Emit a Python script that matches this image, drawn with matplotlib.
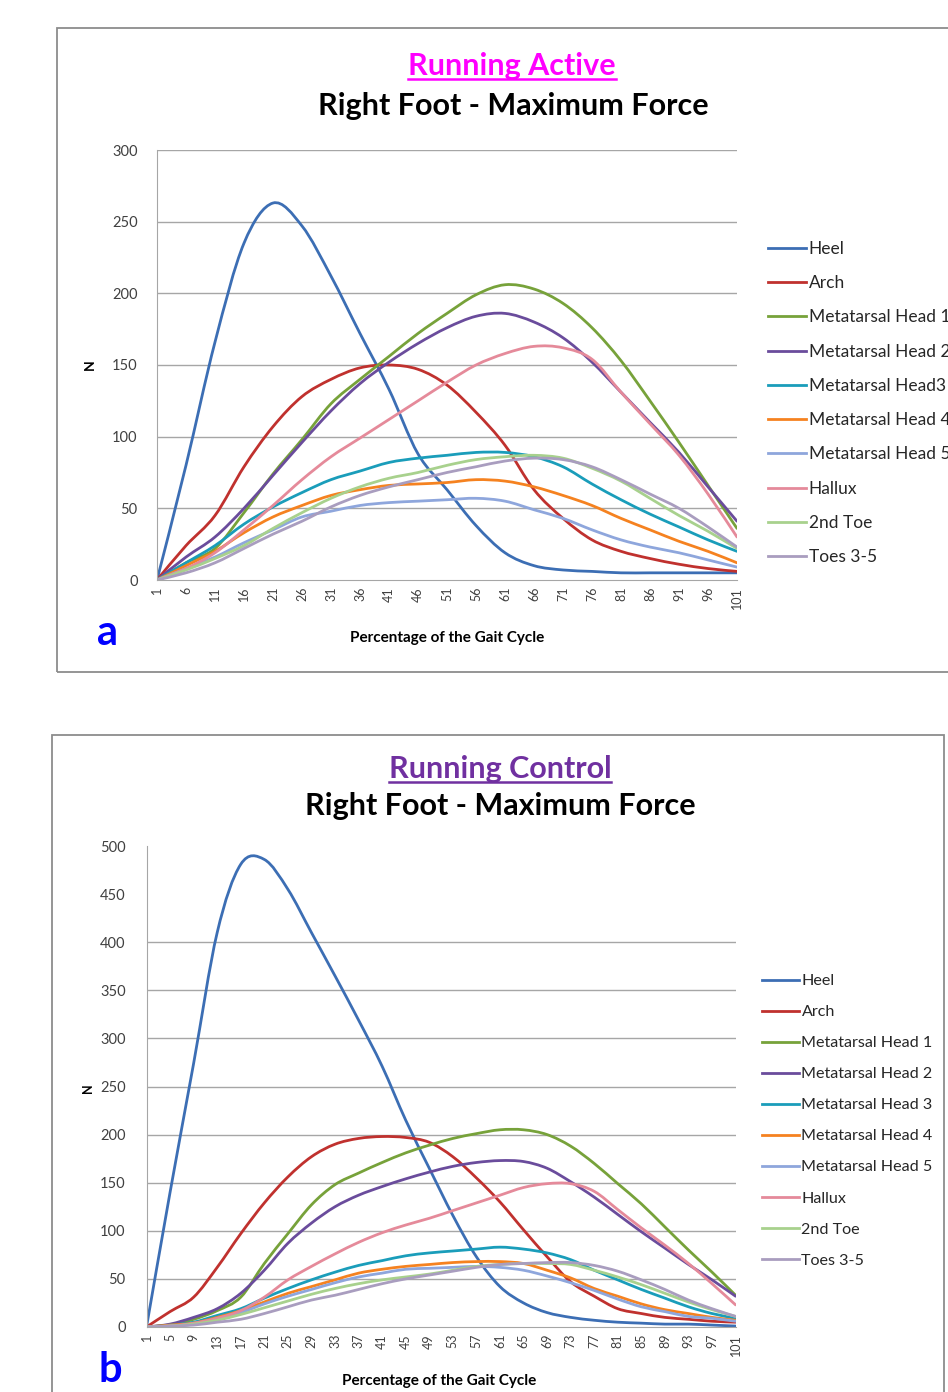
import matplotlib
matplotlib.use("Agg")
import matplotlib.pyplot as plt
from matplotlib.patches import Rectangle, PathPatch
from matplotlib.lines import Line2D
from matplotlib.path import Path

plt.rcParams['font.family'] = ['Lato', 'DejaVu Sans']

# ---- panel a : Running Active ----
x_a = list(range(1, 102, 5))
heel_a   = [0, 80, 166, 235, 263, 247, 212, 172, 133, 88, 63, 38, 19, 10, 7, 6, 5, 5, 5, 5, 5]
arch_a   = [0, 24, 45, 79, 107, 128, 140, 148, 150, 147, 136, 117, 94, 63, 43, 28, 20, 15, 11, 8, 6]
mh1_a    = [0, 12, 22, 47, 74, 98, 123, 140, 156, 172, 186, 199, 206, 203, 193, 176, 153, 125, 96, 66, 36]
mh2_a    = [0, 16, 30, 50, 73, 96, 118, 137, 152, 165, 176, 184, 186, 180, 169, 152, 131, 110, 89, 65, 41]
mh3_a    = [0, 12, 24, 39, 51, 61, 70, 76, 82, 85, 87, 89, 89, 86, 79, 67, 56, 46, 37, 28, 20]
mh4_a    = [0, 10, 20, 33, 44, 52, 59, 63, 66, 67, 68, 70, 69, 65, 59, 52, 43, 35, 27, 20, 12]
mh5_a    = [0, 8, 16, 26, 35, 44, 48, 52, 54, 55, 56, 57, 55, 49, 43, 35, 28, 23, 19, 14, 9]
hallux_a = [0, 8, 19, 35, 52, 70, 86, 99, 112, 125, 138, 150, 158, 163, 162, 154, 131, 109, 87, 60, 30]
toe2_a   = [0, 7, 15, 24, 36, 47, 57, 65, 71, 75, 80, 84, 86, 87, 85, 78, 69, 57, 45, 34, 22]
toes_a   = [0, 5, 12, 22, 32, 41, 51, 59, 65, 70, 75, 79, 83, 85, 84, 79, 70, 60, 50, 37, 23]

# ---- panel b : Running Control ----
x_b = list(range(1, 102, 4))
heel_b   = [0, 140, 274, 410, 481, 486, 455, 410, 365, 319, 271, 215, 165, 116, 73, 42, 25, 15, 10, 7, 5, 4, 3, 3, 2, 1]
arch_b   = [0, 16, 31, 62, 97, 129, 156, 177, 190, 196, 198, 197, 192, 177, 155, 130, 101, 73, 47, 32, 19, 14, 10, 8, 6, 5]
mh1_b    = [0, 2, 8, 17, 31, 66, 97, 127, 148, 160, 171, 181, 189, 196, 201, 205, 205, 200, 188, 170, 149, 128, 104, 80, 57, 33]
mh2_b    = [0, 3, 10, 19, 35, 59, 87, 108, 125, 137, 146, 154, 161, 167, 171, 173, 172, 165, 151, 135, 117, 99, 82, 65, 49, 32]
mh3_b    = [0, 2, 5, 12, 19, 30, 40, 49, 57, 64, 69, 74, 77, 79, 81, 83, 81, 77, 70, 59, 49, 39, 30, 21, 14, 9]
mh4_b    = [0, 2, 4, 10, 17, 26, 35, 42, 49, 56, 60, 63, 65, 67, 68, 68, 66, 59, 51, 40, 32, 24, 18, 14, 10, 7]
mh5_b    = [0, 1, 3, 9, 15, 24, 32, 39, 46, 52, 56, 60, 61, 62, 63, 62, 59, 53, 46, 38, 29, 21, 16, 11, 9, 6]
hallux_b = [0, 1, 4, 9, 17, 31, 49, 63, 76, 88, 98, 106, 113, 121, 129, 137, 145, 149, 149, 141, 122, 103, 85, 66, 45, 23]
toe2_b   = [0, 1, 3, 7, 13, 20, 27, 34, 40, 45, 49, 52, 55, 59, 63, 65, 66, 66, 65, 59, 52, 44, 35, 26, 18, 11]
toes_b   = [0, 1, 2, 5, 8, 14, 21, 28, 33, 39, 45, 50, 54, 58, 62, 65, 66, 67, 67, 64, 58, 49, 39, 28, 19, 11]

labels_a = ["Heel", "Arch", "Metatarsal Head 1", "Metatarsal Head 2", "Metatarsal Head3",
            "Metatarsal Head 4", "Metatarsal Head 5", "Hallux", "2nd Toe", "Toes 3-5"]
labels_b = ["Heel", "Arch", "Metatarsal Head 1", "Metatarsal Head 2", "Metatarsal Head 3",
            "Metatarsal Head 4", "Metatarsal Head 5", "Hallux", "2nd Toe", "Toes 3-5"]
colors = ['#3C6EB4', '#C0312E', '#77A23A', '#6A4C9C', '#1A9DBA',
          '#F58220', '#8EA6DC', '#E58A9A', '#A8D18D', '#A99DBF']

series_a = [heel_a, arch_a, mh1_a, mh2_a, mh3_a, mh4_a, mh5_a, hallux_a, toe2_a, toes_a]
series_b = [heel_b, arch_b, mh1_b, mh2_b, mh3_b, mh4_b, mh5_b, hallux_b, toe2_b, toes_b]

W, H = 948, 1392
fig = plt.figure(figsize=(W / 100, H / 100), dpi=100)


def fx(px):
    return px / W


def fy(py):
    return 1 - py / H


def smooth_path(xs, ys):
    # Excel-style smoothed line: Bezier segments through the data points
    n = len(xs)
    verts = [(xs[0], ys[0])]
    codes = [Path.MOVETO]
    for i in range(n - 1):
        x0, y0 = xs[max(i - 1, 0)], ys[max(i - 1, 0)]
        x1, y1 = xs[i], ys[i]
        x2, y2 = xs[i + 1], ys[i + 1]
        x3, y3 = xs[min(i + 2, n - 1)], ys[min(i + 2, n - 1)]
        verts += [(x1 + (x2 - x0) / 6, y1 + (y2 - y0) / 6),
                  (x2 - (x3 - x1) / 6, y2 - (y3 - y1) / 6),
                  (x2, y2)]
        codes += [Path.CURVE4] * 3
    return Path(verts, codes)


# frames around each panel
fig.add_artist(Rectangle((fx(57), fy(672)), fx(960 - 57), (672 - 28) / H,
                         transform=fig.transFigure, fill=False, ec='#8C8C8C', lw=1.3))
fig.add_artist(Rectangle((fx(52), fy(1400)), fx(944 - 52), (1400 - 735) / H,
                         transform=fig.transFigure, fill=False, ec='#8C8C8C', lw=1.3))


def panel(rect, xs, series, labels, ymax, grid, xticks, tpad, leg_xy, leg_fs, leg_sp, hl):
    ax = fig.add_axes(rect)
    for g in grid:
        ax.axhline(g, color='#A6A6A6', lw=1.0, zorder=0)
    handles = []
    for s, lab, c in zip(series, labels, colors):
        ax.add_patch(PathPatch(smooth_path(xs, s), fill=False, ec=c, lw=2.0,
                               capstyle='round', joinstyle='round'))
        handles.append(Line2D([], [], color=c, lw=2.0, label=lab))
    ax.set_xlim(1, 101)
    ax.set_ylim(0, ymax)
    ax.set_yticks(range(0, ymax + 1, 50))
    ax.set_xticks(xticks)
    ax.set_xticklabels([str(t) for t in xticks], rotation=90, fontsize=9, color='#404040')
    ax.tick_params(axis='y', length=0, pad=tpad, labelsize=10.5, labelcolor='#404040')
    ax.tick_params(axis='x', length=0, pad=5)
    for sp in ['top', 'right']:
        ax.spines[sp].set_visible(False)
    ax.spines['left'].set_color('#A6A6A6')
    ax.spines['bottom'].set_color('#A6A6A6')
    ax.legend(handles=handles, loc='upper left', bbox_to_anchor=leg_xy,
              bbox_transform=fig.transFigure, frameon=False, fontsize=leg_fs,
              labelspacing=leg_sp, handlelength=hl, handletextpad=0.15,
              borderpad=0, borderaxespad=0, labelcolor='#262626')
    return ax


ax_a = panel([fx(157), fy(580), fx(737 - 157), (580 - 150) / H], x_a, series_a, labels_a,
             300, range(50, 301, 50), list(range(1, 102, 5)), 14,
             (fx(768), fy(241)), 12.5, 1.05, 2.2)
ax_b = panel([fx(146.5), fy(1327), fx(735.6 - 146.5), (1327 - 846) / H], x_b, series_b, labels_b,
             500, range(50, 401, 50), list(range(1, 102, 4)), 15,
             (fx(762), fy(974)), 11.6, 1.04, 2.3)

# titles and labels
t_a = fig.text(fx(512), fy(66), "Running Active", color='#FF00FF', fontsize=22,
               fontweight='bold', ha='center', va='center')
fig.text(fx(513), fy(106), "Right Foot - Maximum Force", color='black', fontsize=22,
         fontweight='bold', ha='center', va='center')
t_b = fig.text(fx(500), fy(769), "Running Control", color='#7030A0', fontsize=22,
               fontweight='bold', ha='center', va='center')
fig.text(fx(500), fy(806), "Right Foot - Maximum Force", color='black', fontsize=22,
         fontweight='bold', ha='center', va='center')

fig.text(fx(90), fy(365), "N", fontsize=10, fontweight='bold', rotation=90, ha='center', va='center')
fig.text(fx(88), fy(1088), "N", fontsize=9, fontweight='bold', rotation=90, ha='center', va='center')
fig.text(fx(447), fy(638), "Percentage of the Gait Cycle", fontsize=11, fontweight='bold',
         ha='center', va='center')
fig.text(fx(439), fy(1381), "Percentage of the Gait Cycle", fontsize=11, fontweight='bold',
         ha='center', va='center')
fig.text(fx(108), fy(633), "a", color='#0000FF', fontsize=30, fontweight='bold', ha='center', va='center')
fig.text(fx(110), fy(1370), "b", color='#0000FF', fontsize=30, fontweight='bold', ha='center', va='center')

# underline the coloured titles
fig.canvas.draw()
r = fig.canvas.get_renderer()
for t, c in [(t_a, '#FF00FF'), (t_b, '#7030A0')]:
    bb = t.get_window_extent(renderer=r)
    yy = bb.y0 + 1
    fig.add_artist(Line2D([bb.x0 / W, bb.x1 / W], [yy / H, yy / H],
                          transform=fig.transFigure, color=c, lw=1.8))

fig.savefig("out.png", dpi=100)
